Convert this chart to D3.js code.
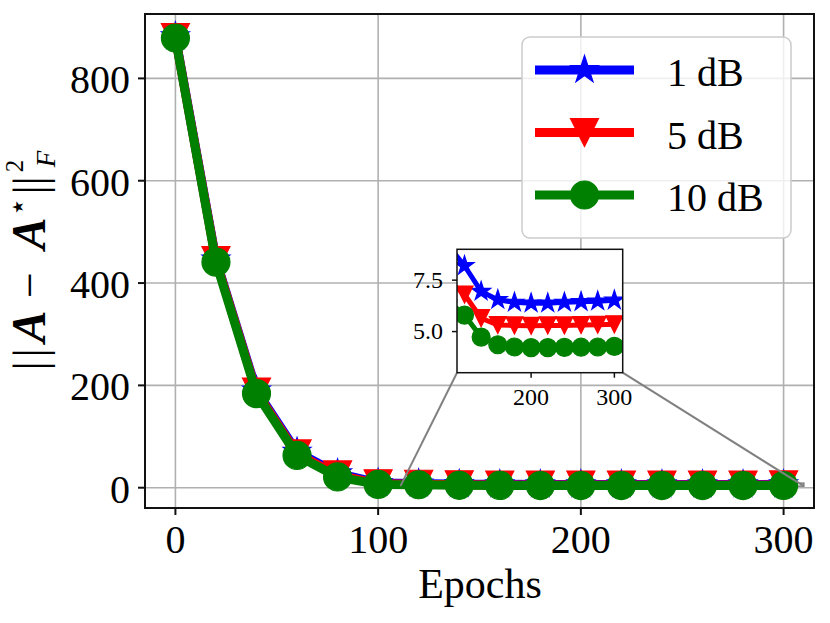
<!DOCTYPE html>
<html>
<head>
<meta charset="utf-8">
<script src="https://cdn.jsdelivr.net/npm/d3@7"></script>
<style>
  body { margin: 0; background: #fff; }
  text { font-family: "Liberation Serif", "DejaVu Serif", serif; fill: #000; }
</style>
</head>
<body>
<div id="chart"></div>
<script>
const epochs = [0, 20, 40, 60, 80, 100, 120, 140, 160, 180, 200, 220, 240, 260, 280, 300];
const loss1dB = [882, 446, 190, 70, 28, 9.2, 8.2, 6.95, 6.55, 6.42, 6.38, 6.38, 6.42, 6.45, 6.48, 6.52];
const loss5dB = [880, 444, 187, 66, 25, 7.5, 6.8, 5.65, 5.32, 5.3, 5.28, 5.3, 5.3, 5.32, 5.33, 5.35];
const loss10dB = [879, 441, 184, 63, 21, 6.5, 5.8, 4.73, 4.36, 4.25, 4.22, 4.22, 4.23, 4.24, 4.25, 4.28];
const seriesNames = ["1 dB", "5 dB", "10 dB"];
const xTicks = [0, 100, 200, 300];
const yTicks = [0, 200, 400, 600, 800];
const insetXTicks = [200, 300];
const insetYTicks = [5.0, 7.5];
const insetRange = [111, 310, 3, 9]; // x0, x1, y0, y1 of the zoomed region

function createLossChart() {
    var width = 830;
    var height = 623;
    var plot = ({left: 145, right: 814, top: 14, bottom: 508});
    var inset = ({left: 457, right: 622.7, top: 249.3, bottom: 372.7});

    var series = [
        {name: seriesNames[0], values: loss1dB, color: "blue", marker: "star"},
        {name: seriesNames[1], values: loss5dB, color: "red", marker: "triangle"},
        {name: seriesNames[2], values: loss10dB, color: "green", marker: "circle"},
    ];

    var allValues = [].concat(loss1dB, loss5dB, loss10dB);
    var yMin = d3.min(allValues), yMax = d3.max(allValues);
    var yPad = 0.05 * (yMax - yMin);
    var xPad = 0.05 * (d3.max(epochs) - d3.min(epochs));

    var x = d3.scaleLinear()
        .domain([d3.min(epochs) - xPad, d3.max(epochs) + xPad])
        .range([plot.left, plot.right]);
    var y = d3.scaleLinear()
        .domain([yMin - yPad, yMax + yPad])
        .range([plot.bottom, plot.top]);

    var ix = d3.scaleLinear().domain([insetRange[0], insetRange[1]]).range([inset.left, inset.right]);
    var iy = d3.scaleLinear().domain([insetRange[2], insetRange[3]]).range([inset.bottom, inset.top]);

    // marker shapes similar to matplotlib '*', 'v', 'o'
    function markerPath(type, r) {
        if (type === "star") return d3.symbol(d3.symbolStar, r * r / 0.8908130915292852)();
        if (type === "circle") return d3.symbol(d3.symbolCircle, Math.PI * r * r)();
        return `M0,${r}L${-r},${-r}L${r},${-r}Z`;
    }
    var markerSize = {star: 14.5, triangle: 14, circle: 14};
    var insetMarkerSize = {star: 10, triangle: 8.5, circle: 9};

    var svg = d3.select("#chart")
        .append("svg")
            .attr("viewBox", [0, 0, width, height])
            .attr("width", width)
            .attr("height", height);

    // grid
    svg.append("g")
        .selectAll("line.gx")
        .data(xTicks)
        .join("line")
            .attr("x1", d => x(d)).attr("x2", d => x(d))
            .attr("y1", plot.top).attr("y2", plot.bottom)
            .attr("stroke", "#b0b0b0").attr("stroke-width", 1.6);
    svg.append("g")
        .selectAll("line.gy")
        .data(yTicks)
        .join("line")
            .attr("x1", plot.left).attr("x2", plot.right)
            .attr("y1", d => y(d)).attr("y2", d => y(d))
            .attr("stroke", "#b0b0b0").attr("stroke-width", 1.6);

    // zoom indicator rectangle (under the data)
    svg.append("rect")
        .attr("x", x(insetRange[0]))
        .attr("y", y(insetRange[3]))
        .attr("width", x(insetRange[1]) - x(insetRange[0]))
        .attr("height", y(insetRange[2]) - y(insetRange[3]))
        .attr("fill", "none")
        .attr("stroke", "#808080")
        .attr("stroke-width", 1.5);

    function drawSeries(g, sx, sy, lineWidth, sizes) {
        var line = d3.line()
            .x((d, i) => sx(epochs[i]))
            .y(d => sy(d));
        series.forEach(s => {
            var sg = g.append("g");
            sg.append("path")
                .datum(s.values)
                .attr("fill", "none")
                .attr("stroke", s.color)
                .attr("stroke-width", lineWidth)
                .attr("stroke-linejoin", "round")
                .attr("d", line);
            sg.selectAll("path.m")
                .data(s.values)
                .join("path")
                    .attr("class", "m")
                    .attr("transform", (d, i) => `translate(${sx(epochs[i])},${sy(d)})`)
                    .attr("d", markerPath(s.marker, sizes[s.marker]))
                    .attr("fill", s.color)
                    .attr("stroke", s.color)
                    .attr("stroke-width", 1.2);
        });
    }

    drawSeries(svg.append("g"), x, y, 9, markerSize);

    // spines
    svg.append("rect")
        .attr("x", plot.left).attr("y", plot.top)
        .attr("width", plot.right - plot.left).attr("height", plot.bottom - plot.top)
        .attr("fill", "none").attr("stroke", "#111").attr("stroke-width", 2);

    // x ticks
    var xt = svg.append("g")
        .selectAll("g")
        .data(xTicks)
        .join("g")
            .attr("transform", d => `translate(${x(d)},${plot.bottom})`);
    xt.append("line").attr("y2", 7).attr("stroke", "#111").attr("stroke-width", 2);
    xt.append("text")
        .attr("y", 45)
        .attr("text-anchor", "middle")
        .attr("font-size", 40)
        .text(d => d);

    // y ticks
    var yt = svg.append("g")
        .selectAll("g")
        .data(yTicks)
        .join("g")
            .attr("transform", d => `translate(${plot.left},${y(d)})`);
    yt.append("line").attr("x2", -7).attr("stroke", "#111").attr("stroke-width", 2);
    yt.append("text")
        .attr("x", -15)
        .attr("y", 15)
        .attr("text-anchor", "end")
        .attr("font-size", 40)
        .text(d => d);

    svg.append("text")
        .attr("x", 480)
        .attr("y", 598)
        .attr("text-anchor", "middle")
        .attr("font-size", 42)
        .text("Epochs");

    // y label ||A - A*||_F^2
    var yl = svg.append("g").attr("transform", "translate(45,368) rotate(-90)");
    var pieces = [
        {t: "|", x: 2, y: 0, size: 46},
        {t: "|", x: 15, y: 0, size: 46},
        {t: "A", x: 41.5, y: 0, size: 48, bold: true, italic: true},
        {t: "\u2212", x: 83, y: 0, size: 46},
        {t: "A", x: 134.5, y: 0, size: 48, bold: true, italic: true},
        {t: "\u2605", x: 161, y: -22, size: 15},
        {t: "|", x: 178, y: 0, size: 46},
        {t: "|", x: 187, y: 0, size: 46},
        {t: "2", x: 202, y: -22, size: 25},
        {t: "F", x: 209, y: 10, size: 27, italic: true},
    ];
    yl.selectAll("text")
        .data(pieces)
        .join("text")
            .attr("x", d => d.x)
            .attr("y", d => d.y)
            .attr("text-anchor", "middle")
            .attr("font-size", d => d.size)
            .attr("font-weight", d => d.bold ? "bold" : "normal")
            .attr("font-style", d => d.italic ? "italic" : "normal")
            .style("font-family", d => d.t === "\u2605" ? "DejaVu Sans" : null)
            .text(d => d.t);

    // connectors from inset to zoom region
    svg.append("line")
        .attr("x1", inset.left).attr("y1", inset.bottom)
        .attr("x2", x(insetRange[0])).attr("y2", y(insetRange[2]))
        .attr("stroke", "#808080").attr("stroke-width", 2);
    svg.append("line")
        .attr("x1", inset.right).attr("y1", inset.bottom)
        .attr("x2", x(insetRange[1])).attr("y2", y(insetRange[2]))
        .attr("stroke", "#808080").attr("stroke-width", 2);

    // legend
    var legend = svg.append("g");
    legend.append("rect")
        .attr("x", 522).attr("y", 37)
        .attr("width", 269).attr("height", 201)
        .attr("rx", 8)
        .attr("fill", "white").attr("fill-opacity", 0.8)
        .attr("stroke", "#cccccc").attr("stroke-width", 1.5);
    var rows = legend.selectAll("g.row")
        .data(series)
        .join("g")
            .attr("transform", (d, i) => `translate(0,${70 + i * 62.5})`);
    rows.append("line")
        .attr("x1", 535).attr("x2", 634)
        .attr("stroke", d => d.color).attr("stroke-width", 9);
    rows.append("path")
        .attr("transform", "translate(584.5,0)")
        .attr("d", d => markerPath(d.marker, markerSize[d.marker]))
        .attr("fill", d => d.color)
        .attr("stroke", d => d.color)
        .attr("stroke-width", 1.2);
    rows.append("text")
        .attr("x", 667)
        .attr("y", 16)
        .attr("font-size", 40)
        .text(d => d.name);

    // inset axes
    var ins = svg.append("g");
    ins.append("rect")
        .attr("x", inset.left).attr("y", inset.top)
        .attr("width", inset.right - inset.left).attr("height", inset.bottom - inset.top)
        .attr("fill", "white");
    svg.append("defs").append("clipPath")
        .attr("id", "inset-clip")
        .append("rect")
            .attr("x", inset.left).attr("y", inset.top)
            .attr("width", inset.right - inset.left).attr("height", inset.bottom - inset.top);
    drawSeries(ins.append("g").attr("clip-path", "url(#inset-clip)"), ix, iy, 5, insetMarkerSize);
    ins.append("rect")
        .attr("x", inset.left).attr("y", inset.top)
        .attr("width", inset.right - inset.left).attr("height", inset.bottom - inset.top)
        .attr("fill", "none").attr("stroke", "#111").attr("stroke-width", 1.5);

    var ixt = ins.append("g")
        .selectAll("g")
        .data(insetXTicks)
        .join("g")
            .attr("transform", d => `translate(${ix(d)},${inset.bottom})`);
    ixt.append("line").attr("y2", 5).attr("stroke", "#111").attr("stroke-width", 1.5);
    ixt.append("text")
        .attr("y", 32)
        .attr("text-anchor", "middle")
        .attr("font-size", 24)
        .text(d => d);

    var iyt = ins.append("g")
        .selectAll("g")
        .data(insetYTicks)
        .join("g")
            .attr("transform", d => `translate(${inset.left},${iy(d)})`);
    iyt.append("line").attr("x2", -5).attr("stroke", "#111").attr("stroke-width", 1.5);
    iyt.append("text")
        .attr("x", -14)
        .attr("y", 7.5)
        .attr("text-anchor", "end")
        .attr("font-size", 24)
        .text(d => d.toFixed(1));
}

createLossChart();
</script>
</body>
</html>
